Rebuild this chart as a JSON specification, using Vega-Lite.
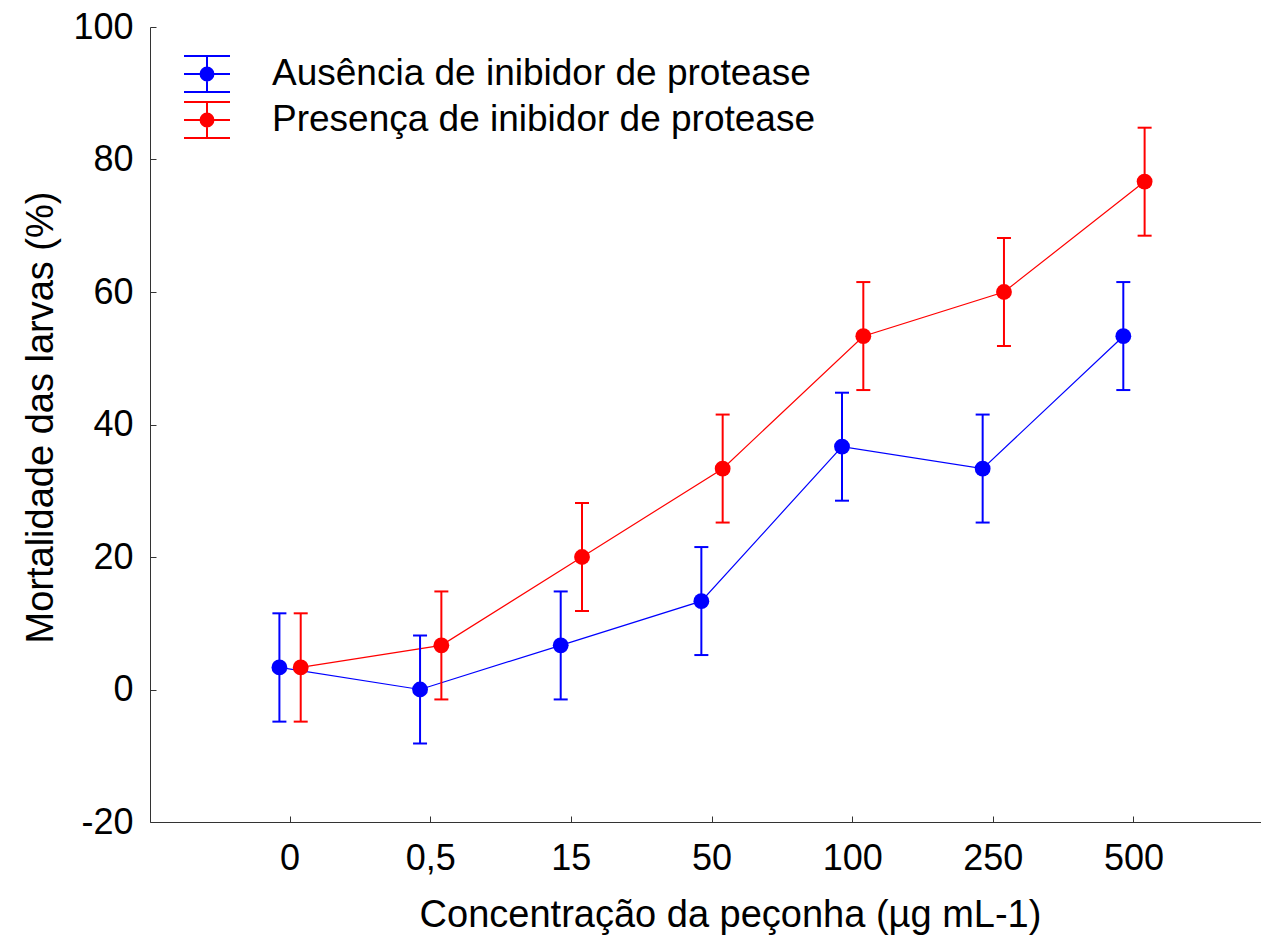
{
  "$schema": "https://vega.github.io/schema/vega-lite/v6.json",
  "autosize": {"type": "none"},
  "padding": {"left": 150, "top": 27, "right": 0, "bottom": 120},
  "width": 1111,
  "height": 795,
  "background": "white",
  "config": {
    "view": {"stroke": null},
    "font": "Liberation Sans",
    "axis": {
      "domainColor": "#333333",
      "tickColor": "#333333",
      "labelColor": "black",
      "titleColor": "black",
      "labelFont": "Liberation Sans",
      "titleFont": "Liberation Sans",
      "labelFontSize": 36,
      "titleFontSize": 38,
      "titleFontWeight": "normal",
      "grid": false,
      "tickSize": -6
    },
    "legend": {"labelFont": "Liberation Sans", "labelFontSize": 37, "labelColor": "black", "labelLimit": 0}
  },
  "data": {
    "values": [
      {"conc": "0", "grupo": "Ausência de inibidor de protease", "mort": 3.33, "lo": -4.85, "hi": 11.5},
      {"conc": "0,5", "grupo": "Ausência de inibidor de protease", "mort": 0, "lo": -8.15, "hi": 8.15},
      {"conc": "15", "grupo": "Ausência de inibidor de protease", "mort": 6.67, "lo": -1.5, "hi": 14.8},
      {"conc": "50", "grupo": "Ausência de inibidor de protease", "mort": 13.33, "lo": 5.2, "hi": 21.5},
      {"conc": "100", "grupo": "Ausência de inibidor de protease", "mort": 36.67, "lo": 28.5, "hi": 44.8},
      {"conc": "250", "grupo": "Ausência de inibidor de protease", "mort": 33.33, "lo": 25.2, "hi": 41.5},
      {"conc": "500", "grupo": "Ausência de inibidor de protease", "mort": 53.33, "lo": 45.2, "hi": 61.5},
      {"conc": "0", "grupo": "Presença de inibidor de protease", "mort": 3.33, "lo": -4.85, "hi": 11.5},
      {"conc": "0,5", "grupo": "Presença de inibidor de protease", "mort": 6.67, "lo": -1.5, "hi": 14.8},
      {"conc": "15", "grupo": "Presença de inibidor de protease", "mort": 20, "lo": 11.85, "hi": 28.15},
      {"conc": "50", "grupo": "Presença de inibidor de protease", "mort": 33.33, "lo": 25.2, "hi": 41.5},
      {"conc": "100", "grupo": "Presença de inibidor de protease", "mort": 53.33, "lo": 45.2, "hi": 61.5},
      {"conc": "250", "grupo": "Presença de inibidor de protease", "mort": 60, "lo": 51.85, "hi": 68.15},
      {"conc": "500", "grupo": "Presença de inibidor de protease", "mort": 76.67, "lo": 68.5, "hi": 84.8}
    ]
  },
  "encoding": {
    "x": {
      "field": "conc",
      "type": "nominal",
      "sort": ["0", "0,5", "15", "50", "100", "250", "500"],
      "scale": {"type": "band", "paddingInner": 0.697, "paddingOuter": 0.798, "align": 0.529},
      "axis": {
        "title": "Concentração da peçonha (µg mL-1)",
        "labelAngle": 0,
        "labelPadding": 25,
        "titlePadding": 20,
        "titleX": 580
      }
    },
    "xOffset": {
      "field": "grupo",
      "type": "nominal",
      "scale": {"paddingInner": 0, "paddingOuter": 0}
    },
    "color": {
      "field": "grupo",
      "type": "nominal",
      "scale": {"domain": ["Ausência de inibidor de protease", "Presença de inibidor de protease"], "range": ["#0000FF", "#FF0000"]},
      "legend": {
        "title": null,
        "orient": "none",
        "legendX": 33,
        "legendY": 23,
        "padding": 0,
        "rowPadding": -1,
        "symbolType": "M-1,-0.78H1M-1,0H1M-1,0.78H1M0,-0.78V0.78M-0.28,0A0.28,0.28 0 1,0 0.28,0A0.28,0.28 0 1,0 -0.28,0Z",
        "symbolSize": 2116,
        "symbolStrokeWidth": 2,
        "labelOffset": 41,
        "encode": {
          "symbols": {"update": {"fill": {"scale": "color", "field": "value"}, "stroke": {"scale": "color", "field": "value"}, "fillOpacity": {"value": 1}, "strokeOpacity": {"value": 1}}}
        }
      }
    }
  },
  "layer": [
    {
      "mark": {"type": "line", "strokeWidth": 1.2},
      "encoding": {
        "y": {
          "field": "mort",
          "type": "quantitative",
          "scale": {"domain": [-20, 100], "nice": false, "zero": false},
          "axis": {
            "title": "Mortalidade das larvas (%)",
            "values": [-20, 0, 20, 40, 60, 80, 100],
            "labelExpr": "replace(datum.label, '−', '-')",
            "labelPadding": 23,
            "titlePadding": 12,
            "titleY": 390
          }
        }
      }
    },
    {
      "mark": {"type": "rule", "strokeWidth": 2},
      "encoding": {
        "y": {"field": "lo", "type": "quantitative"},
        "y2": {"field": "hi"}
      }
    },
    {
      "mark": {"type": "tick", "orient": "horizontal", "size": 14, "thickness": 2, "opacity": 1},
      "encoding": {"y": {"field": "lo", "type": "quantitative"}}
    },
    {
      "mark": {"type": "tick", "orient": "horizontal", "size": 14, "thickness": 2, "opacity": 1},
      "encoding": {"y": {"field": "hi", "type": "quantitative"}}
    },
    {
      "mark": {"type": "point", "filled": true, "size": 250, "opacity": 1},
      "encoding": {"y": {"field": "mort", "type": "quantitative"}}
    }
  ]
}
